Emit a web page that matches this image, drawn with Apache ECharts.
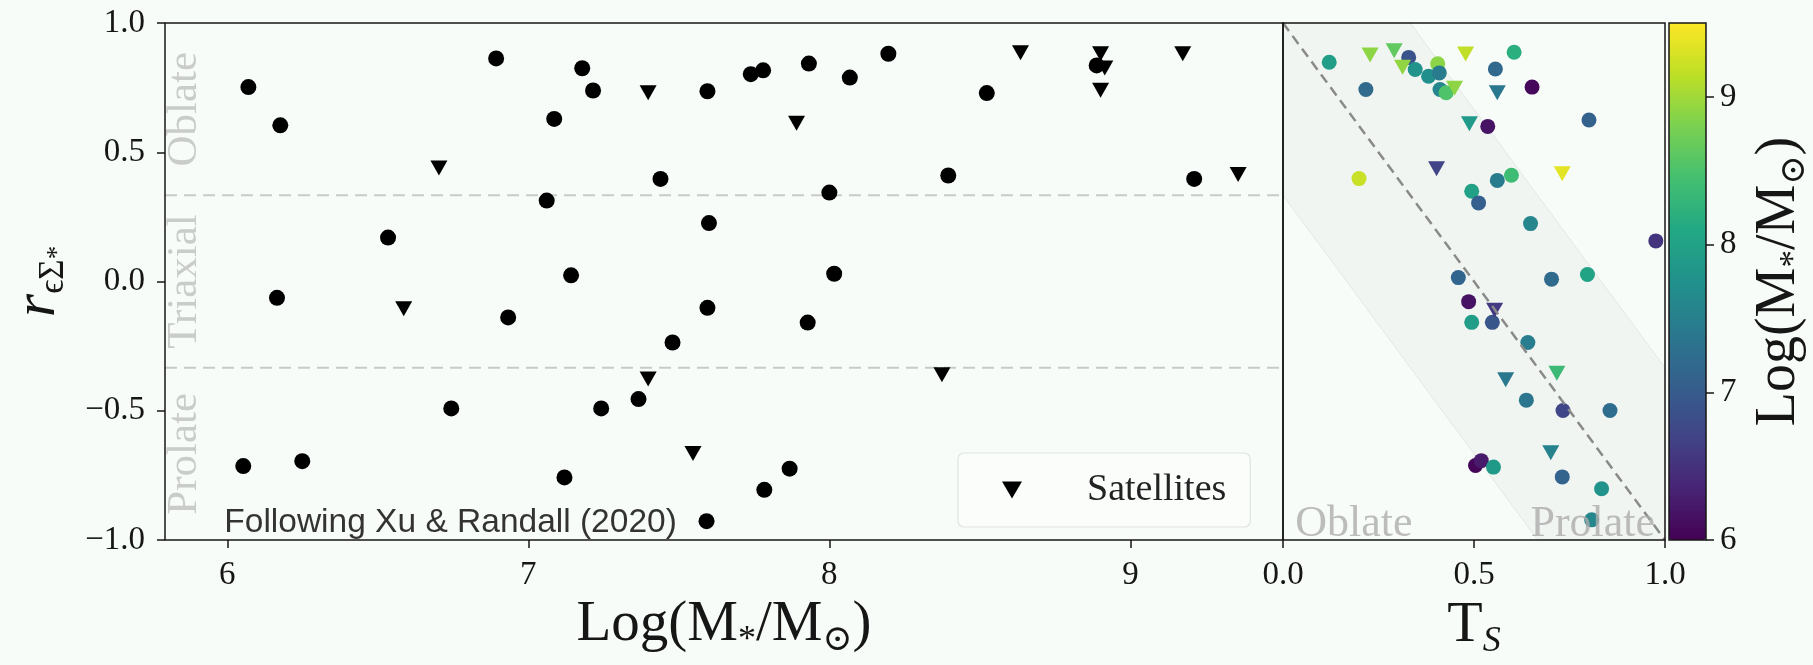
<!DOCTYPE html>
<html>
<head>
<meta charset="utf-8">
<script src="https://cdn.jsdelivr.net/npm/echarts@6/dist/echarts.min.js"></script>
<style>
  html, body { margin: 0; padding: 0; background: #f8fcf8; }
  #chart { width: 1813px; height: 665px; }
</style>
</head>
<body>
<div id="chart"></div>
<script>
// ---- Left panel: shape correlation r vs. stellar mass ----
const centralMass = [6.070, 6.176, 6.893, 7.179, 7.215, 7.086, 7.439, 7.061, 6.534, 7.142,
  6.165, 6.933, 7.595, 7.739, 7.780, 7.932, 8.068, 8.196, 8.523, 8.888,
  8.395, 9.212, 8.000, 7.600, 8.016, 7.595, 7.928, 7.479, 7.366, 7.242,
  6.744, 6.249, 6.053, 7.120, 7.868, 7.784, 7.592];
const centralR = [0.752, 0.604, 0.863, 0.825, 0.739, 0.629, 0.397, 0.313, 0.170, 0.024,
  -0.063, -0.139, 0.736, 0.802, 0.817, 0.843, 0.789, 0.881, 0.729, 0.836,
  0.410, 0.397, 0.344, 0.226, 0.030, -0.102, -0.159, -0.236, -0.455, -0.491,
  -0.491, -0.695, -0.714, -0.758, -0.724, -0.806, -0.927];
const satelliteMass = [7.398, 6.703, 6.586, 7.891, 8.635, 8.901, 8.915, 8.901, 9.174, 9.358,
  8.374, 7.398, 7.547];
const satelliteR = [0.730, 0.439, -0.105, 0.612, 0.885, 0.881, 0.826, 0.740, 0.881, 0.414,
  -0.361, -0.377, -0.665];

// ---- Right panel: r vs. triaxiality T_S, coloured by log stellar mass ----
const centralT = [0.121, 0.329, 0.346, 0.405, 0.381, 0.409, 0.217, 0.411, 0.427, 0.605,
  0.556, 0.652, 0.801, 0.536, 0.199, 0.561, 0.598, 0.494, 0.512, 0.648,
  0.976, 0.459, 0.703, 0.797, 0.486, 0.494, 0.548, 0.641, 0.637, 0.733,
  0.856, 0.504, 0.519, 0.551, 0.731, 0.834, 0.808];
const centralTR = [0.848, 0.867, 0.820, 0.842, 0.794, 0.807, 0.743, 0.743, 0.730, 0.887,
  0.822, 0.752, 0.625, 0.600, 0.398, 0.391, 0.411, 0.349, 0.304, 0.224,
  0.157, 0.015, 0.009, 0.027, -0.078, -0.158, -0.158, -0.236, -0.459, -0.499,
  -0.499, -0.712, -0.693, -0.718, -0.756, -0.802, -0.922];
const centralTMass = [7.93, 6.89, 7.78, 8.89, 7.74, 7.45, 7.22, 7.60, 8.52, 8.20,
  7.18, 6.07, 7.09, 6.18, 9.21, 7.44, 8.40, 8.00, 7.06, 7.60,
  6.53, 7.14, 7.20, 8.02, 6.17, 7.93, 6.93, 7.48, 7.37, 6.74,
  7.24, 6.05, 6.25, 7.87, 7.12, 7.78, 7.59];
const satelliteT = [0.228, 0.291, 0.313, 0.449, 0.478, 0.561, 0.488, 0.402, 0.731, 0.554,
  0.717, 0.583, 0.701];
const satelliteTR = [0.876, 0.893, 0.829, 0.748, 0.880, 0.730, 0.610, 0.436, 0.417, -0.111,
  -0.355, -0.380, -0.662];
const satelliteTMass = [8.90, 8.64, 8.92, 8.90, 9.17, 7.40, 7.89, 6.70, 9.36, 6.59,
  8.37, 7.40, 7.55];

// ---- Axes, ticks and guides ----
const massRange = [5.793, 9.507];
const massTicks = [6, 7, 8, 9];
const rRange = [-1, 1];
const tRange = [0, 1];
const colorRange = [6, 9.5];
const colorTicks = [6, 7, 8, 9];
const shapeBounds = [1 / 3, -1 / 3];
const regionNames = ['Oblate', 'Triaxial', 'Prolate'];
const regionR = [2 / 3, 0, -2 / 3];
const regionMass = 5.857;
// band |r - (1 - 2T)| <= 2/3 and its centre line
const bandT = [0, 0, 1 / 3, 1, 1, 2 / 3];
const bandR = [1 / 3, 1, 1, -1 / 3, -1, -1];
const diagT = [0, 1];
const diagR = [1, -1];

const viridis = ['#440154', '#482475', '#414487', '#355f8d', '#2a788e', '#21918c',
  '#22a884', '#44bf70', '#7ad151', '#bddf26', '#fde725'];

const SERIF = '"Liberation Serif", "DejaVu Serif", serif';
const SANS = '"Liberation Sans", Arial, sans-serif';
const INK = '#161616';

const zip2 = (a, b) => a.map((v, i) => [v, b[i]]);
const zip3 = (a, b, c) => a.map((v, i) => [v, b[i], c[i]]);

const tick = { show: true, inside: false, length: 8, lineStyle: { color: INK, width: 1.5 } };
const tickLabel = { fontFamily: SERIF, fontSize: 33, color: INK };
const noLine = { show: false, onZero: false };
const frame = { show: true, borderColor: INK, borderWidth: 1.5, backgroundColor: 'transparent', z: 6 };
const massName = '{a|Log(M}{s|*}{a|/M}{s|\u2299}{a|)}';
const massRich = (big, small) => ({
  a: { fontFamily: SERIF, fontSize: big, lineHeight: big + 10, color: INK, verticalAlign: 'middle' },
  s: { fontFamily: SERIF, fontSize: small, lineHeight: small + 2, color: INK, verticalAlign: 'bottom' }
});
const fmtR = v => (v < 0 ? '\u2212' : '') + Math.abs(v).toFixed(1);
const downTriangle = 'path://M0,0L20,0L10,17Z';

const chart = echarts.init(document.getElementById('chart'));

chart.setOption({
  backgroundColor: '#f8fcf8',
  animation: false,
  textStyle: { fontFamily: SERIF },
  grid: [
    Object.assign({ left: 152, top: 23, width: 1131, height: 517 }, frame),
    Object.assign({ left: 1283, top: 23, width: 382, height: 517 }, frame),
    Object.assign({ left: 1669, top: 23, width: 37, height: 517 }, frame, { z: 10 })
  ],
  xAxis: [
    {
      gridIndex: 0, type: 'value', min: massRange[0], max: massRange[1],
      axisLine: noLine, splitLine: { show: false },
      axisTick: Object.assign({ customValues: massTicks }, tick),
      axisLabel: Object.assign({ customValues: massTicks, margin: 19 }, tickLabel),
      name: massName, nameLocation: 'middle', nameGap: 50,
      nameTextStyle: { rich: massRich(57, 36) }
    },
    {
      gridIndex: 1, type: 'value', min: tRange[0], max: tRange[1], interval: 0.5,
      axisLine: noLine, splitLine: { show: false },
      axisTick: tick,
      axisLabel: Object.assign({ margin: 19, formatter: v => v.toFixed(1) }, tickLabel),
      name: '{a|T}{s|S}', nameLocation: 'middle', nameGap: 50,
      nameTextStyle: {
        rich: {
          a: { fontFamily: SERIF, fontSize: 58, lineHeight: 67, color: INK, verticalAlign: 'middle' },
          s: { fontFamily: SERIF, fontStyle: 'italic', fontSize: 36, lineHeight: 38, color: INK, verticalAlign: 'bottom' }
        }
      }
    },
    { gridIndex: 2, type: 'value', min: 0, max: 1, show: false, axisLine: noLine }
  ],
  yAxis: [
    {
      gridIndex: 0, type: 'value', min: rRange[0], max: rRange[1], interval: 0.5,
      axisLine: noLine, splitLine: { show: false },
      axisTick: tick,
      axisLabel: Object.assign({ margin: 20, formatter: fmtR }, tickLabel),
      name: '{a|r}{s|\u03f5\u03a3}{t|*}', nameLocation: 'middle', nameRotate: 90, nameGap: 94,
      nameTextStyle: {
        rich: {
          a: { fontFamily: SERIF, fontStyle: 'italic', fontSize: 60, lineHeight: 66, color: INK, verticalAlign: 'middle' },
          s: { fontFamily: SERIF, fontSize: 35, lineHeight: 39, color: INK, verticalAlign: 'bottom' },
          t: { fontFamily: SERIF, fontSize: 27, lineHeight: 27, color: INK, verticalAlign: 'bottom' }
        }
      }
    },
    {
      gridIndex: 1, type: 'value', min: rRange[0], max: rRange[1], interval: 0.5,
      axisLine: noLine, splitLine: { show: false },
      axisTick: { show: false }, axisLabel: { show: false }
    },
    {
      gridIndex: 2, type: 'value', position: 'right', min: colorRange[0], max: colorRange[1],
      axisLine: noLine, splitLine: { show: false },
      axisTick: Object.assign({ customValues: colorTicks }, tick),
      axisLabel: Object.assign({ customValues: colorTicks, margin: 14 }, tickLabel),
      name: massName, nameLocation: 'middle', nameRotate: 90, nameGap: 40,
      nameTextStyle: { rich: massRich(56, 35) }
    }
  ],
  visualMap: {
    type: 'continuous', min: colorRange[0], max: colorRange[1], dimension: 2,
    seriesIndex: [7, 8], inRange: { color: viridis },
    left: 1669, top: 23, itemWidth: 37, itemHeight: 517, padding: 0,
    calculable: false, hoverLink: false, realtime: false, text: null, z: 4
  },
  legend: {
    data: [{ name: 'Satellites', icon: downTriangle }], left: 958, top: 453, selectedMode: false,
    padding: [18, 24, 18, 44], itemWidth: 30, itemHeight: 17,
    itemStyle: { color: '#000', opacity: 1 },
    backgroundColor: 'rgba(255,255,255,0.45)', borderColor: '#e0e3e0', borderWidth: 1.2, borderRadius: 6,
    textStyle: { fontFamily: SERIF, fontSize: 38, lineHeight: 37, color: '#222', padding: [0, 0, 0, 55] }
  },
  series: [
    {
      name: 'Centrals', type: 'scatter', xAxisIndex: 0, yAxisIndex: 0,
      data: zip2(centralMass, centralR), symbol: 'circle', symbolSize: 16,
      itemStyle: { color: '#000', opacity: 1 }, z: 3
    },
    {
      name: 'Satellites', type: 'scatter', xAxisIndex: 0, yAxisIndex: 0,
      data: zip2(satelliteMass, satelliteR), symbol: 'triangle', symbolRotate: 180,
      symbolSize: [17, 15], itemStyle: { color: '#000', opacity: 1 }, z: 3
    },
    // shape class boundaries
    ...shapeBounds.map(b => ({
      type: 'line', xAxisIndex: 0, yAxisIndex: 0, silent: true, symbol: 'none', z: 1,
      data: [[massRange[0], b], [massRange[1], b]],
      lineStyle: { color: '#c8cac8', width: 2, type: [12, 7] }
    })),
    {
      type: 'scatter', xAxisIndex: 0, yAxisIndex: 0, silent: true, symbolSize: 0, z: 2,
      data: regionR.map((r, i) => [regionMass, r, regionNames[i]]),
      label: {
        show: true, position: 'inside', rotate: 90, formatter: p => p.data[2],
        fontFamily: SERIF, fontSize: 43, color: '#bdbfbd'
      }
    },
    {
      type: 'scatter', xAxisIndex: 0, yAxisIndex: 0, silent: true, symbolSize: 0, z: 5,
      data: [[5.99, -0.934]],
      label: {
        show: true, position: 'right', distance: 0, formatter: 'Following Xu & Randall (2020)',
        fontFamily: SANS, fontSize: 33.5, color: '#000'
      }
    },
    {
      type: 'custom', xAxisIndex: 1, yAxisIndex: 1, silent: true, z: 1,
      data: zip2(bandT, bandR),
      renderItem: (params, api) => {
        if (params.dataIndex !== 0) return null;
        const pts = bandT.map((t, i) => api.coord([t, bandR[i]]));
        return {
          type: 'polygon', shape: { points: pts },
          style: { fill: 'rgba(0,0,0,0.028)', stroke: 'rgba(0,0,0,0.07)', lineWidth: 1 }
        };
      }
    },
    {
      type: 'scatter', xAxisIndex: 1, yAxisIndex: 1,
      data: zip3(centralT, centralTR, centralTMass), symbol: 'circle', symbolSize: 15,
      itemStyle: { opacity: 1 }, z: 3
    },
    {
      type: 'scatter', xAxisIndex: 1, yAxisIndex: 1,
      data: zip3(satelliteT, satelliteTR, satelliteTMass), symbol: 'triangle', symbolRotate: 180,
      symbolSize: [17, 15], itemStyle: { opacity: 1 }, z: 3
    },
    {
      type: 'line', xAxisIndex: 1, yAxisIndex: 1, silent: true, symbol: 'none', z: 4,
      data: zip2(diagT, diagR),
      lineStyle: { color: '#8a8a8a', width: 2.5, type: [10, 6] }
    },
    {
      type: 'scatter', xAxisIndex: 1, yAxisIndex: 1, silent: true, symbolSize: 0, z: 5,
      data: [
        { value: [0.032, -0.938], label: { position: 'right', formatter: 'Oblate' } },
        { value: [0.974, -0.938], label: { position: 'left', formatter: 'Prolate' } }
      ],
      label: { show: true, distance: 0, fontFamily: SERIF, fontSize: 44, color: '#ababab' }
    }
  ]
});
</script>
</body>
</html>
